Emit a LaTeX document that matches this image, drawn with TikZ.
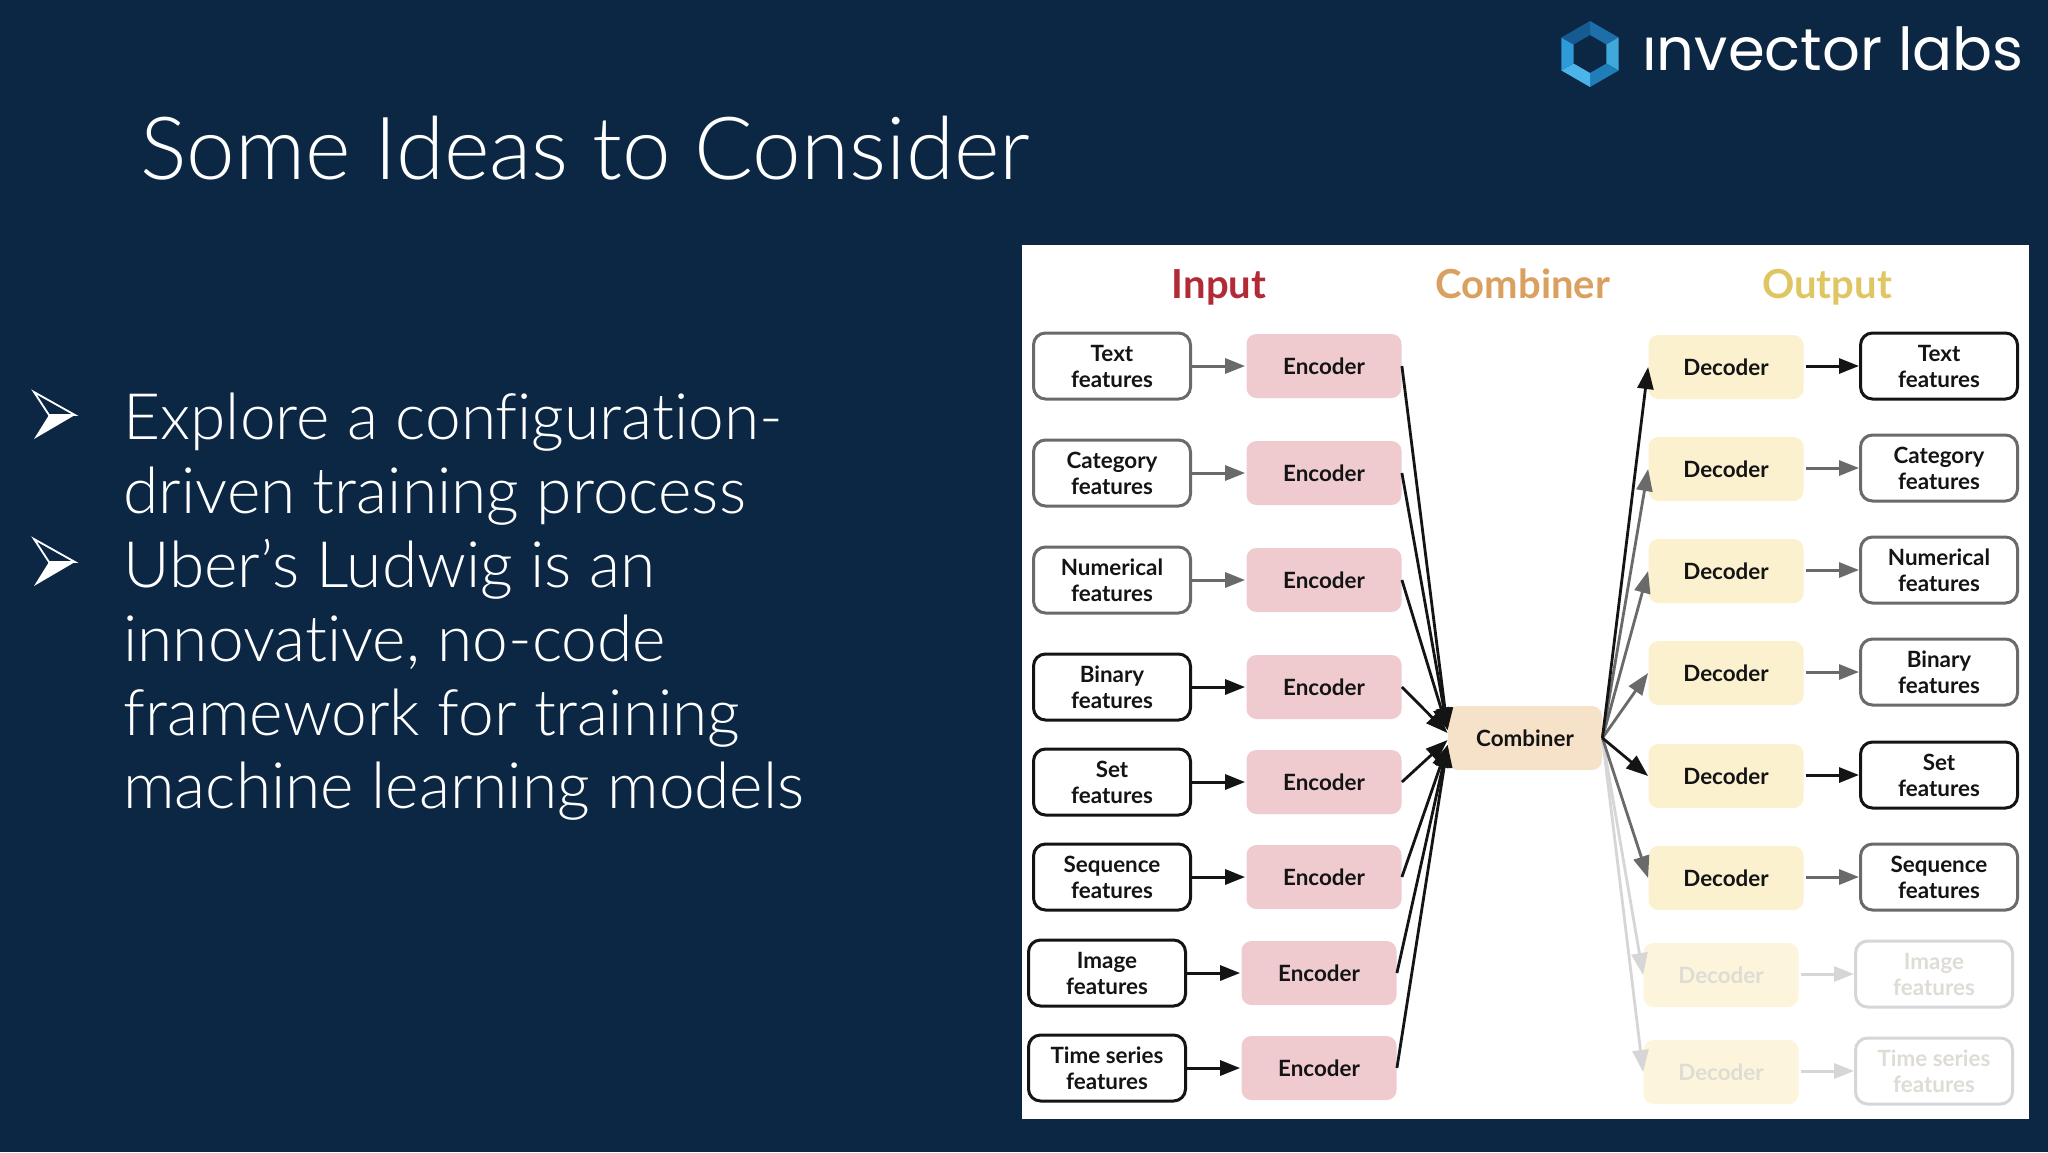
\documentclass[tikz,border=0pt]{standalone}
\usepackage{fontspec}
\usetikzlibrary{arrows.meta}
\setmainfont{Lato}
\newfontfamily\lightf[Ligatures=NoCommon]{Lato Light}
\newfontfamily\logof{Poppins}
\definecolor{bgc}{HTML}{0C2744}
\definecolor{ink}{HTML}{141414}
\definecolor{mid}{HTML}{6A6A6A}
\definecolor{pale}{HTML}{D6D6D6}
\definecolor{palefill}{HTML}{FCF5DC}
\definecolor{palet}{HTML}{DEDCD4}
\definecolor{encf}{HTML}{EFCBCF}
\definecolor{combf}{HTML}{F5E2C8}
\definecolor{decf}{HTML}{FBF1CF}
\definecolor{HeadRed}{HTML}{B22A35}
\definecolor{HeadOr}{HTML}{D9A05F}
\definecolor{HeadYe}{HTML}{E0C663}
\tikzset{
  lbl/.style={font=\bfseries\fontsize{11.2}{13}\selectfont,align=center,inner sep=0pt,text=ink,execute at begin node={\vspace*{1.2pt}}},
  featb/.style={lbl,draw=#1,fill=white,line width=1.5pt,rounded corners=6pt,minimum width=78.5pt,minimum height=33pt},
  enc/.style={lbl,fill=encf,rounded corners=5pt,minimum width=77.5pt,minimum height=32pt},
  dec/.style={lbl,fill=decf,rounded corners=5pt,minimum width=77.5pt,minimum height=32pt},
  fadedec/.style={lbl,fill=palefill,text=palet,rounded corners=5pt,minimum width=77.5pt,minimum height=32pt},
  fadeout/.style={lbl,draw=pale,fill=white,text=palet,line width=1.5pt,rounded corners=6pt,minimum width=78.5pt,minimum height=33pt},
  conn/.style={draw=#1,line width=1.5pt,-{Triangle[length=10pt,width=7.5pt,fill=#1]}},
  fan/.style={draw=#1,line width=1.4pt,-{Triangle[length=11pt,width=8pt,fill=#1]}},
  head/.style={font=\bfseries\fontsize{20}{22}\selectfont,inner sep=0pt,anchor=base},
  slide/.style={font=\lightf\fontsize{32}{37}\selectfont,text=white,inner sep=0pt,anchor=base west},
}
\begin{document}
\begin{tikzpicture}[x=0.5pt,y=-0.5pt]
\useasboundingbox (0,0) rectangle (2048,1152);
\fill[bgc] (0,0) rectangle (2048,1152);
\fill[white] (1022,245) rectangle (2029,1119);

% logo
\foreach \a/\c in {270/1C6FA8,330/3FA9DC,30/1F7DB8,90/4BB4E8,150/2E9AD8,210/155A90}{
  \definecolor{segc}{HTML}{\c}
  \pgfmathsetmacro{\b}{\a+60}
  \fill[segc] ([shift={(1590,54)}]\a:33) -- ([shift={(1590,54)}]\b:33) -- ([shift={(1590,54)}]\b:19) -- ([shift={(1590,54)}]\a:19) -- cycle;
}
\node[font=\logof\fontsize{29.6}{32}\selectfont,text=white,inner sep=0pt,anchor=base west] (logo) at (1642,70) {ınvector labs};

% title and bullets
\node[slide,font=\lightf\fontsize{43.6}{50}\selectfont] (title) at (140,179) {Some Ideas to Consider};
\node[slide] (l1) at (123,439) {Explore a configuration-};
\node[slide] (l2) at (123,513) {driven training process};
\node[slide] (l3) at (123,587) {Uber’s Ludwig is an};
\node[slide] (l4) at (123,661) {innovative, no-code};
\node[slide] (l5) at (123,735) {framework for training};
\node[slide] (l6) at (123,808) {machine learning models};
\foreach \dy in {0,147}{
  \fill[white] (34,439+\dy) -- (75,415+\dy) -- (49,415+\dy) -- cycle;
  \draw[white,line width=0.9pt,line join=miter] (34,392+\dy) -- (75,415+\dy) -- (49,415+\dy) -- cycle;
}

% headers
\node[head,text=HeadRed] (hin) at (1219,298) {Input};
\node[head,text=HeadOr] (hcomb) at (1523,298) {Combiner};
\node[head,text=HeadYe] (hout) at (1827,298) {Output};

% input column
\node[featb=mid] (in1) at (1112,366) {Text\\features};
\node[featb=mid] (in2) at (1112,473) {Category\\features};
\node[featb=mid] (in3) at (1112,580) {Numerical\\features};
\node[featb=ink] (in4) at (1112,687) {Binary\\features};
\node[featb=ink] (in5) at (1112,782) {Set\\features};
\node[featb=ink] (in6) at (1112,877) {Sequence\\features};
\node[featb=ink] (in7) at (1107,973) {Image\\features};
\node[featb=ink] (in8) at (1107,1068) {Time series\\features};

\node[enc] (e1) at (1324,366) {Encoder};
\node[enc] (e2) at (1324,473) {Encoder};
\node[enc] (e3) at (1324,580) {Encoder};
\node[enc] (e4) at (1324,687) {Encoder};
\node[enc] (e5) at (1324,782) {Encoder};
\node[enc] (e6) at (1324,877) {Encoder};
\node[enc] (e7) at (1319,973) {Encoder};
\node[enc] (e8) at (1319,1068) {Encoder};

\node[lbl,fill=combf,rounded corners=5pt,minimum width=77pt,minimum height=32pt] (comb) at (1525,738) {Combiner};

% output column
\node[dec] (d1) at (1726,367) {Decoder};
\node[dec] (d2) at (1726,469) {Decoder};
\node[dec] (d3) at (1726,571) {Decoder};
\node[dec] (d4) at (1726,673) {Decoder};
\node[dec] (d5) at (1726,776) {Decoder};
\node[dec] (d6) at (1726,878) {Decoder};
\node[fadedec] (d7) at (1721,975) {Decoder};
\node[fadedec] (d8) at (1721,1072) {Decoder};

\node[featb=ink] (o1) at (1939,366) {Text\\features};
\node[featb=mid] (o2) at (1939,468) {Category\\features};
\node[featb=mid] (o3) at (1939,570) {Numerical\\features};
\node[featb=mid] (o4) at (1939,672) {Binary\\features};
\node[featb=ink] (o5) at (1939,775) {Set\\features};
\node[featb=mid] (o6) at (1939,877) {Sequence\\features};
\node[fadeout] (o7) at (1934,974) {Image\\features};
\node[fadeout] (o8) at (1934,1071) {Time series\\features};

% input arrows
\foreach \i/\c in {1/mid,2/mid,3/mid,4/ink,5/ink,6/ink,7/ink,8/ink}{
  \draw[conn=\c,shorten >=0.5pt] (in\i.east) -- (e\i.west);
}
% encoder to combiner
\foreach \i/\s in {1/4,2/4,3/4,4/2.5,5/-1,6/-3.5,7/-3.5,8/-3.5}{
  \draw[fan=ink] (e\i.east) -- ([yshift=\s pt]comb.west);
}
% combiner to decoders
\draw[fan=pale] (comb.east) -- (d7.west);
\draw[fan=pale] (comb.east) -- (d8.west);
\draw[fan=mid] (comb.east) -- (d2.west);
\draw[fan=mid] (comb.east) -- (d3.west);
\draw[fan=mid] (comb.east) -- (d4.west);
\draw[fan=mid] (comb.east) -- (d6.west);
\draw[fan=ink] (comb.east) -- (d1.west);
\draw[fan=ink] (comb.east) -- (d5.west);
% decoder to output
\foreach \i/\c in {1/ink,2/mid,3/mid,4/mid,5/ink,6/mid,7/pale,8/pale}{
  \draw[conn=\c] ([xshift=1pt]d\i.east |- o\i.west) -- (o\i.west);
}
\end{tikzpicture}
\end{document}
